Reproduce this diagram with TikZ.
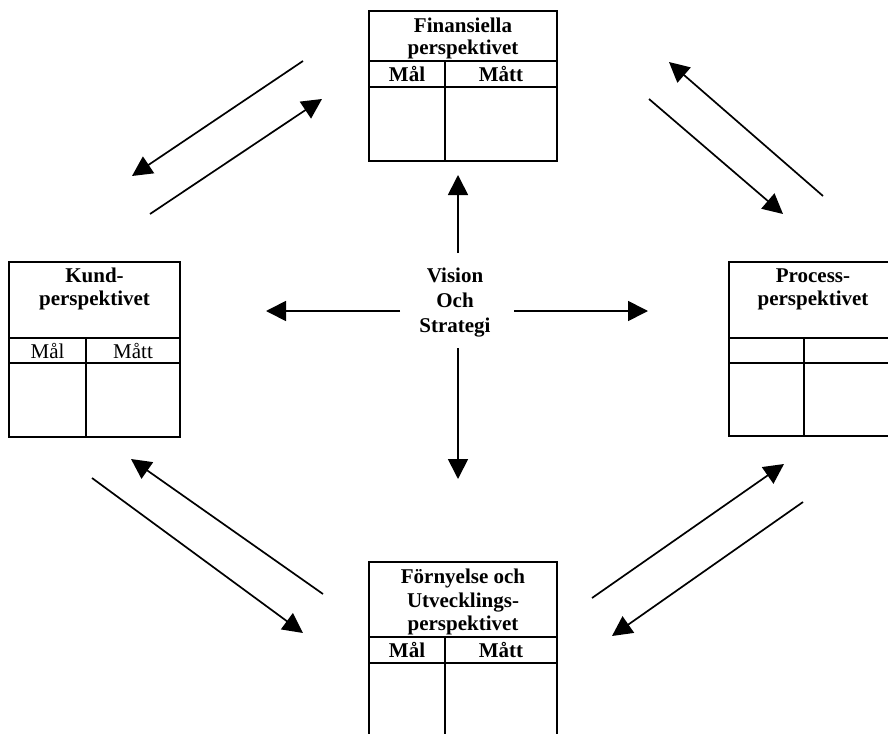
\documentclass[tikz,border=0pt]{standalone}
\usepackage{fontspec}
\setmainfont{Liberation Serif}
\usetikzlibrary{arrows.meta}

\begin{document}
\begin{tikzpicture}[x=1pt,y=-1pt,
  frame/.style={line width=2pt},
  flow/.style={line width=1.7pt,-{Triangle[length=20pt,width=20pt]}},
  hdr/.style={anchor=base,inner sep=0pt,font=\fontsize{21}{23}\selectfont\bfseries},
  cell/.style={anchor=base,inner sep=0pt,font=\fontsize{21}{23}\selectfont},
  cellb/.style={cell,font=\fontsize{21}{23}\selectfont\bfseries}]
\useasboundingbox (0,0) rectangle (888,733);

% ---- Finansiella perspektivet (top)
\draw[frame] (369,11) rectangle (557,161);
\draw[frame] (369,61) -- (557,61) (369,87) -- (557,87) (445,61) -- (445,161);
\node[hdr] (fin1) at (463,33) {Finansiella};
\node[hdr] (fin2) at (463,55) {perspektivet};
\node[cellb] (finM) at (407,81.5) {Mål};
\node[cellb] (finN) at (501,81.5) {Mått};

% ---- Kundperspektivet (left)
\draw[frame] (9,262) rectangle (180,437);
\draw[frame] (9,338) -- (180,338) (9,363) -- (180,363) (86,338) -- (86,437);
\node[hdr] (kun1) at (94.5,282) {Kund-};
\node[hdr] (kun2) at (94.5,305) {perspektivet};
\node[cell] (kunM) at (47.5,358) {Mål};
\node[cell] (kunN) at (133,358) {Mått};

% ---- Processperspektivet (right, runs past the edge)
\draw[frame] (729,262) rectangle (898,436);
\draw[frame] (729,338) -- (898,338) (729,363) -- (898,363) (804,338) -- (804,436);
\node[hdr] (pro1) at (813,282) {Process-};
\node[hdr] (pro2) at (813,305) {perspektivet};

% ---- Förnyelse och Utvecklingsperspektivet (bottom, runs past the edge)
\draw[frame] (369,562) rectangle (557,750);
\draw[frame] (369,637) -- (557,637) (369,663) -- (557,663) (445,637) -- (445,750);
\node[hdr] (for1) at (463,583) {Förnyelse och};
\node[hdr] (for2) at (463,607) {Utvecklings-};
\node[hdr] (for3) at (463,630) {perspektivet};
\node[cellb] (forM) at (407,657) {Mål};
\node[cellb] (forN) at (501,657) {Mått};

% ---- centre
\node[hdr] (vis1) at (455,282) {Vision};
\node[hdr] (vis2) at (455,307) {Och};
\node[hdr] (vis3) at (455,332) {Strategi};

\coordinate (cU0) at (458,253); \coordinate (cU1) at (458,175);
\coordinate (cD0) at (458,348); \coordinate (cD1) at (458,479);
\coordinate (cL0) at (400,311); \coordinate (cL1) at (266,311);
\coordinate (cR0) at (514,311); \coordinate (cR1) at (648,311);
\draw[flow] (cU0) -- (cU1);
\draw[flow] (cD0) -- (cD1);
\draw[flow] (cL0) -- (cL1);
\draw[flow] (cR0) -- (cR1);

% ---- diagonal pairs
\coordinate (a1) at (303,61);  \coordinate (b1) at (132,176);
\coordinate (a2) at (150,214); \coordinate (b2) at (322,99);
\coordinate (a3) at (823,196); \coordinate (b3) at (669,62);
\coordinate (a4) at (649,99);  \coordinate (b4) at (783,214);
\coordinate (a5) at (323,594); \coordinate (b5) at (131,459);
\coordinate (a6) at (92,478);  \coordinate (b6) at (303,633);
\coordinate (a7) at (592,598); \coordinate (b7) at (784,464);
\coordinate (a8) at (803,502); \coordinate (b8) at (612,636);
\foreach \i in {1,...,8} \draw[flow] (a\i) -- (b\i);
\end{tikzpicture}
\end{document}
